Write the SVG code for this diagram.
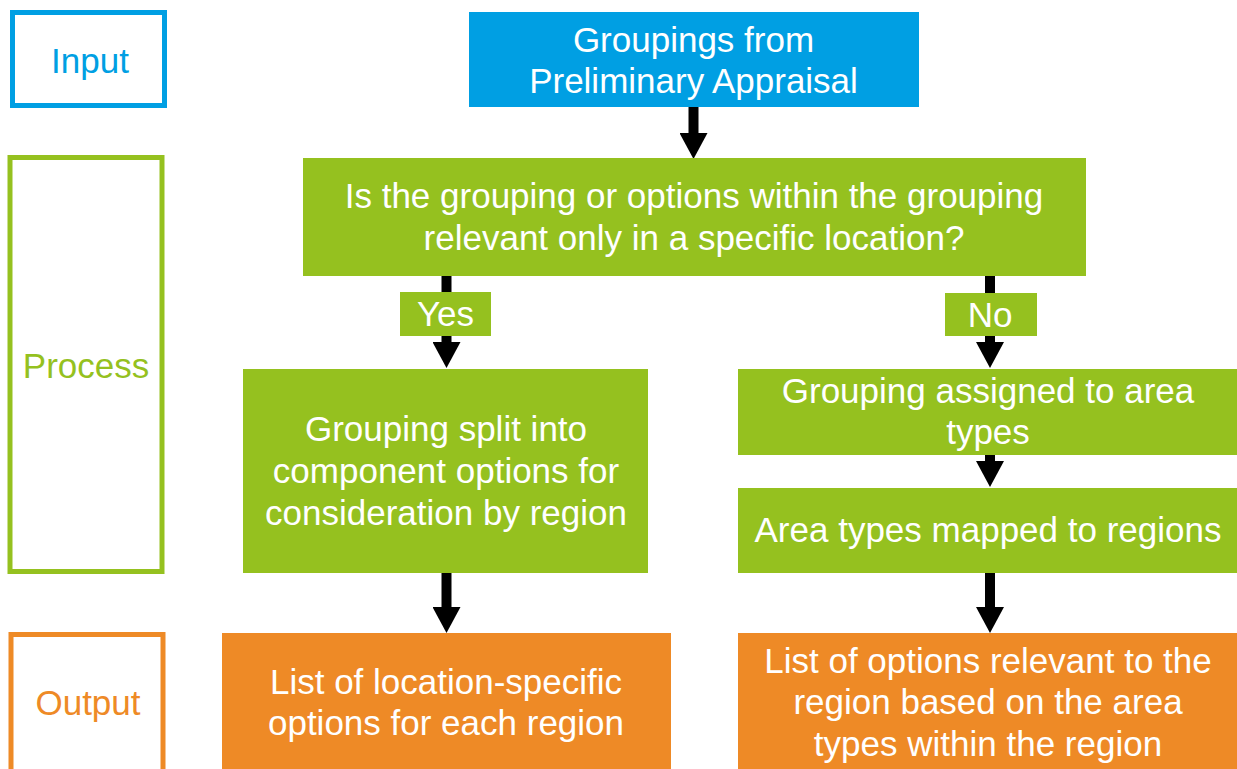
<svg xmlns="http://www.w3.org/2000/svg" width="1237" height="769" viewBox="0 0 1237 769">
<style>
.t{font-family:"Liberation Sans",Arial,sans-serif;font-size:35px;text-anchor:middle}
.w{fill:#ffffff}
.blue{fill:#009FE3}
.green{fill:#95C11F}
.orange{fill:#EE8A26}
.conn{stroke:#000;stroke-width:10;fill:none}
</style>
<defs>
<marker id="ah" markerUnits="userSpaceOnUse" markerWidth="26" markerHeight="28" viewBox="0 0 26 28" refX="0" refY="14" orient="auto">
<path d="M0,0 L26,14 L0,28 Z" fill="#000"/>
</marker>
</defs>
<rect width="1237" height="769" fill="#ffffff"/>
<g id="lane-input">
<rect x="12.5" y="12.5" width="152" height="93" fill="none" stroke="#009FE3" stroke-width="5"/>
<text class="t" x="90" y="73" fill="#009FE3">Input</text>
</g>
<g id="lane-process">
<rect x="10" y="157.5" width="152" height="414" fill="none" stroke="#95C11F" stroke-width="5"/>
<text class="t" x="86" y="378" fill="#95C11F">Process</text>
</g>
<g id="lane-output">
<rect x="11" y="634.5" width="152" height="140" fill="none" stroke="#EE8A26" stroke-width="5"/>
<text class="t" x="88" y="715" fill="#EE8A26">Output</text>
</g>
<g id="connectors">
<line class="conn" x1="693.5" y1="107" x2="693.5" y2="133" marker-end="url(#ah)"/>
<line class="conn" x1="446.5" y1="276" x2="446.5" y2="342" marker-end="url(#ah)"/>
<line class="conn" x1="990" y1="276" x2="990" y2="342" marker-end="url(#ah)"/>
<line class="conn" x1="990" y1="455" x2="990" y2="461" marker-end="url(#ah)"/>
<line class="conn" x1="446.5" y1="573" x2="446.5" y2="607" marker-end="url(#ah)"/>
<line class="conn" x1="990" y1="573" x2="990" y2="607" marker-end="url(#ah)"/>
<g id="label-yes">
<rect class="green" x="400" y="292" width="91" height="44"/>
<text class="t w" x="445.5" y="326">Yes</text>
</g>
<g id="label-no">
<rect class="green" x="945" y="293" width="92" height="43"/>
<text class="t w" x="990" y="327">No</text>
</g>
</g>
<g id="n-groupings">
<rect class="blue" x="469" y="12" width="450" height="95"/>
<text class="t w" x="693.5" y="52">Groupings from</text>
<text class="t w" x="693.5" y="93">Preliminary Appraisal</text>
</g>
<g id="n-question">
<rect class="green" x="303" y="158" width="783" height="118"/>
<text class="t w" x="694" y="208">Is the grouping or options within the grouping</text>
<text class="t w" x="694" y="250">relevant only in a specific location?</text>
</g>
<g id="n-split">
<rect class="green" x="243" y="369" width="405" height="204"/>
<text class="t w" x="446" y="441">Grouping split into</text>
<text class="t w" x="446" y="483">component options for</text>
<text class="t w" x="446" y="525">consideration by region</text>
</g>
<g id="n-assigned">
<rect class="green" x="738" y="369" width="499" height="86"/>
<text class="t w" x="988" y="403">Grouping assigned to area</text>
<text class="t w" x="988" y="444">types</text>
</g>
<g id="n-mapped">
<rect class="green" x="738" y="488" width="499" height="85"/>
<text class="t w" x="988" y="542">Area types mapped to regions</text>
</g>
<g id="n-out-left">
<rect class="orange" x="222" y="633" width="449" height="136"/>
<text class="t w" x="446" y="694">List of location-specific</text>
<text class="t w" x="446" y="735">options for each region</text>
</g>
<g id="n-out-right">
<rect class="orange" x="738" y="633" width="499" height="136"/>
<text class="t w" x="988" y="673">List of options relevant to the</text>
<text class="t w" x="988" y="714">region based on the area</text>
<text class="t w" x="988" y="756">types within the region</text>
</g>
</svg>
